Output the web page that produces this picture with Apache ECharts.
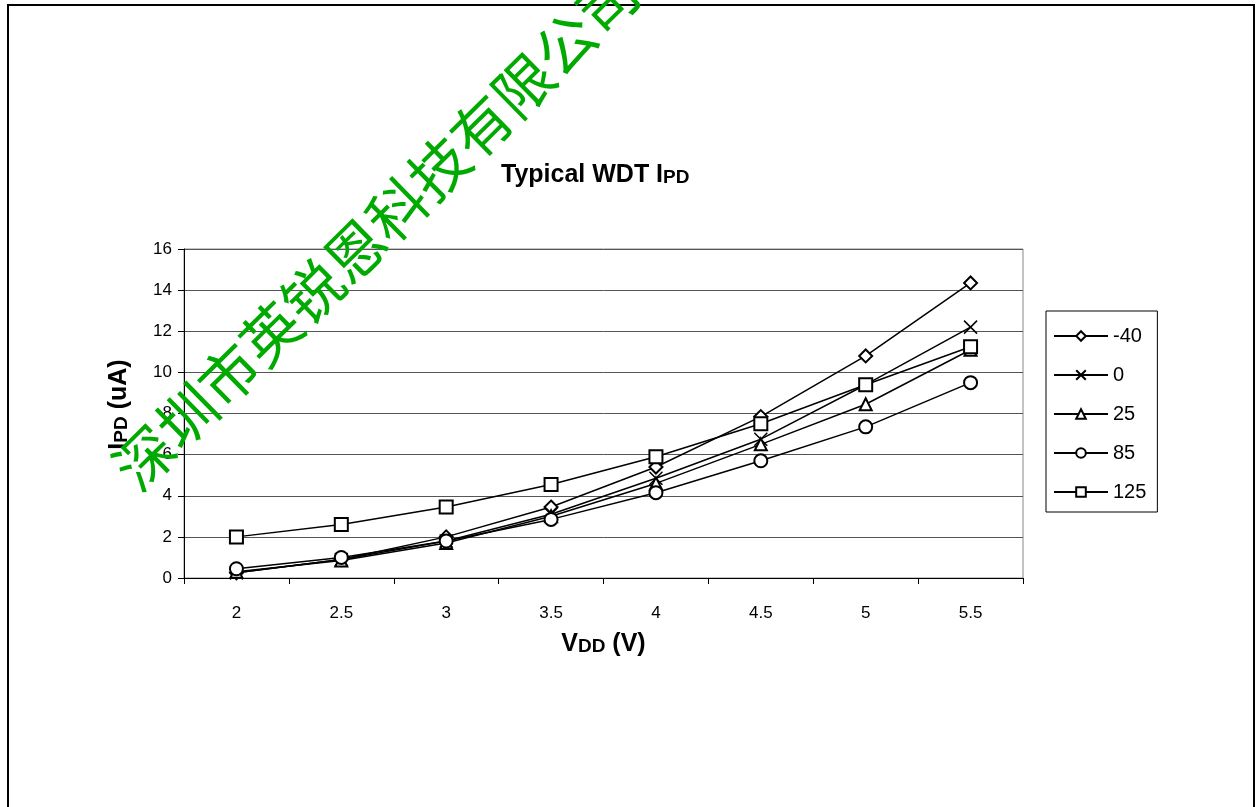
<!DOCTYPE html>
<html><head><meta charset="utf-8">
<script src="https://cdn.jsdelivr.net/npm/echarts@6/dist/echarts.min.js"></script>
<style>html,body{margin:0;padding:0;background:#fff}#c{width:1258px;height:807px}</style>
</head><body><div id="c"></div>
<script>
const categories = ['2','2.5','3','3.5','4','4.5','5','5.5'];
const seriesNames = ['-40','0','25','85','125'];
const sM40 = [0.25, 0.9, 2.0, 3.45, 5.4, 7.85, 10.8, 14.35];
const s0   = [0.25, 0.9, 1.8, 3.1, 4.85, 6.75, 9.4, 12.2];
const s25  = [0.3, 0.85, 1.7, 3.0, 4.6, 6.5, 8.45, 11.1];
const s85  = [0.45, 1.0, 1.8, 2.85, 4.15, 5.7, 7.35, 9.5];
const s125 = [2.0, 2.6, 3.45, 4.55, 5.9, 7.5, 9.4, 11.25];
const watermark = '深圳市英锐恩科技有限公司';

const font = '"Liberation Sans", Arial, sans-serif';
const xPath = 'path://M0,0L10,10M10,0L0,10';
const symbols = ['emptyDiamond', xPath, 'emptyTriangle', 'emptyCircle', 'emptyRect'];
const sizes = [13, 13, 12, 13, 13];
const datas = [sM40, s0, s25, s85, s125];

const bigSub = (main, sub, pad) => ({
  fontFamily: font, fontSize: main, fontWeight: 'bold', color: '#000',
  padding: pad || 0,
  rich: {
    a: { fontFamily: font, fontSize: main, fontWeight: 'bold', color: '#000' },
    b: { fontFamily: font, fontSize: sub, fontWeight: 'bold', color: '#000', padding: [4,0,0,0] }
  }
});

const chart = echarts.init(document.getElementById('c'));
chart.setOption({
  animation: false,
  backgroundColor: '#fff',
  title: {
    text: '{a|Typical WDT I}{b|PD}',
    left: 496, top: 158,
    textStyle: bigSub(25, 19)
  },
  grid: { left: 184, top: 249, right: 235, bottom: 229, show: true, borderColor: '#888', borderWidth: 1 },
  legend: {
    orient: 'vertical', left: 1046, top: 311,
    itemWidth: 54, itemHeight: 12, itemGap: 19,
    padding: [15, 11, 10, 7],
    borderColor: '#000', borderWidth: 1,
    textStyle: { fontFamily: font, fontSize: 20, color: '#000' },
    data: seriesNames
  },
  xAxis: {
    type: 'category', data: categories, boundaryGap: true,
    axisLine: { lineStyle: { color: '#000', width: 1 } },
    axisTick: { show: true, length: 6, lineStyle: { color: '#000' }, alignWithLabel: false },
    axisLabel: { fontFamily: font, fontSize: 17, color: '#000', margin: 27 },
    name: '{a|V}{b|DD}{a| (V)}', nameLocation: 'middle', nameGap: 54,
    nameTextStyle: bigSub(25, 19)
  },
  yAxis: {
    type: 'value', min: 0, max: 16, interval: 2,
    axisLine: { show: true, lineStyle: { color: '#000', width: 1 } },
    axisTick: { show: true, length: 6, lineStyle: { color: '#000' } },
    axisLabel: { fontFamily: font, fontSize: 17, color: '#000', margin: 12 },
    splitLine: { show: true, lineStyle: { color: '#555', width: 1 } },
    name: '{a|I}{b|PD}{a| (uA)}', nameLocation: 'middle', nameGap: 52, nameRotate: 90,
    nameTextStyle: bigSub(25, 19, [0, 0, 0, 18])
  },
  series: seriesNames.map((n, i) => ({
    name: n, type: 'line', data: datas[i],
    symbol: symbols[i], symbolSize: sizes[i], showSymbol: true,
    lineStyle: { color: '#000', width: 1.5 },
    itemStyle: { color: '#000', borderColor: '#000', borderWidth: 1.5 }
  })),
  graphic: [
    { type: 'rect', shape: { x: 8, y: 5, width: 1246, height: 830 }, style: { fill: 'none', stroke: '#000', lineWidth: 2 }, z: 100, silent: true },
    { type: 'text', x: 376, y: 230, rotation: 0.777, z: 101, silent: true,
      style: { text: watermark, fontFamily: '"Noto Sans CJK SC", sans-serif', fontSize: 59, fill: '#00aa00', align: 'center', verticalAlign: 'middle' } }
  ]
});
</script></body></html>
